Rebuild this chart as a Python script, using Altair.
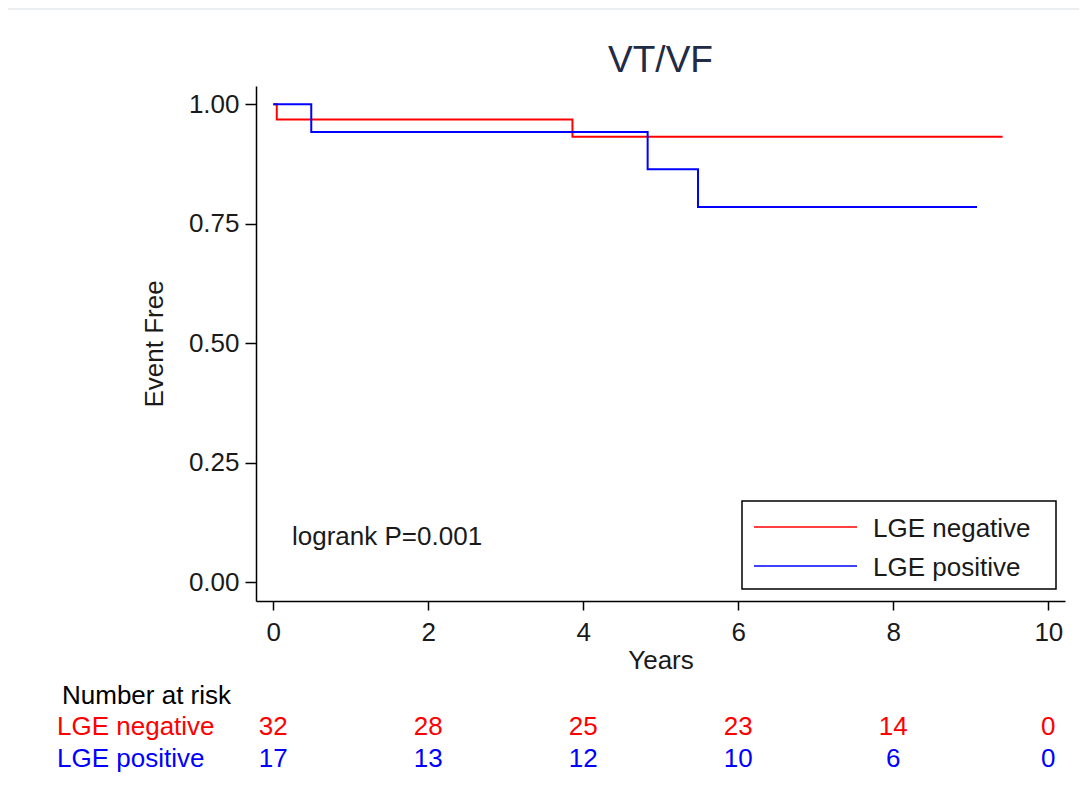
import altair as alt
import pandas as pd

# ---------------- data ----------------
chart_title = "VT/VF"
groups = ["LGE negative", "LGE positive"]
colors = ["#ff0000", "#0000ff"]

neg_years = [0.0, 0.045, 3.86, 9.41]
neg_surv = [1.0, 0.968, 0.932, 0.932]
pos_years = [0.0, 0.49, 4.83, 5.48, 9.08]
pos_surv = [1.0, 0.942, 0.864, 0.785, 0.785]

risk_years = [0, 2, 4, 6, 8, 10]
risk_neg = [32, 28, 25, 23, 14, 0]
risk_pos = [17, 13, 12, 10, 6, 0]

x_ticks = [0, 2, 4, 6, 8, 10]
y_ticks = [0.0, 0.25, 0.5, 0.75, 1.0]

annotation = "logrank P=0.001"
risk_header = "Number at risk"

FONT = "Liberation Sans"
FS = 26

# ---------------- tables ----------------
curves = pd.concat([
    pd.DataFrame({"year": neg_years, "surv": neg_surv, "group": groups[0]}),
    pd.DataFrame({"year": pos_years, "surv": pos_surv, "group": groups[1]}),
], ignore_index=True)
risk_neg_df = pd.DataFrame({"year": risk_years, "n": risk_neg})
risk_pos_df = pd.DataFrame({"year": risk_years, "n": risk_pos})
one = pd.DataFrame({"k": [0]})

xscale = alt.Scale(domain=[-0.223, 10.215], nice=False, zero=False)
yscale = alt.Scale(domain=[-0.0397, 1.038], nice=False, zero=False)

xaxis = alt.Axis(values=x_ticks, title="Years", grid=False, labelFont=FONT,
                 labelFontSize=FS, labelColor="#1a1a1a", titleFont=FONT,
                 titleFontSize=FS, titleFontWeight="normal", titleColor="#1a1a1a",
                 domainColor="#000000", domainWidth=1.5, tickColor="#000000",
                 tickWidth=1.5, tickSize=9, labelPadding=9, titlePadding=2,
                 labelFlush=False)
yaxis = alt.Axis(values=y_ticks, format=".2f", title="Event Free", grid=False,
                 labelFont=FONT, labelFontSize=FS, labelColor="#1a1a1a",
                 titleFont=FONT, titleFontSize=FS, titleFontWeight="normal",
                 titleColor="#1a1a1a", domainColor="#000000", domainWidth=1.5,
                 tickColor="#000000", tickWidth=1.5, tickSize=11, labelPadding=6,
                 titlePadding=21, labelFlush=False)

lines = alt.Chart(curves).mark_line(interpolate="step-after", strokeWidth=2).encode(
    x=alt.X("year:Q", scale=xscale, axis=xaxis),
    y=alt.Y("surv:Q", scale=yscale, axis=yaxis),
    color=alt.Color("group:N", scale=alt.Scale(domain=groups, range=colors), legend=None),
    detail="group:N",
)

top_line = alt.Chart(one).mark_rule(color="#eceff1", strokeWidth=2).encode(
    x=alt.value(-260), x2=alt.value(840), y=alt.value(-77)
)

title_mark = alt.Chart(one).mark_text(align="center", baseline="alphabetic", font=FONT,
                                       fontSize=37, color="#222b45", text=chart_title).encode(
    x=alt.value(404.5), y=alt.value(-14.5)
)

logrank = alt.Chart(one).mark_text(align="left", baseline="alphabetic", font=FONT,
                                    fontSize=FS, color="#1a1a1a", text=annotation).encode(
    x=alt.value(36), y=alt.value(459)
)

# legend box
legend_box = alt.Chart(one).mark_rect(fill="white", stroke="#000000", strokeWidth=1.5).encode(
    x=alt.value(486), x2=alt.value(800), y=alt.value(415), y2=alt.value(503)
)
legend_layers = [legend_box]
for i, (g, c) in enumerate(zip(groups, colors)):
    ly = 441 + 39 * i
    legend_layers.append(
        alt.Chart(one).mark_rule(color=c, strokeWidth=1.5).encode(
            x=alt.value(498), x2=alt.value(601), y=alt.value(ly)
        )
    )
    legend_layers.append(
        alt.Chart(one).mark_text(align="left", baseline="alphabetic", font=FONT,
                                 fontSize=FS, color="#1a1a1a", text=g).encode(
            x=alt.value(617), y=alt.value(ly + 10)
        )
    )

# risk table
header = alt.Chart(one).mark_text(align="left", baseline="alphabetic", font=FONT,
                                   fontSize=FS, color="#000000", text=risk_header).encode(
    x=alt.value(-194), y=alt.value(618)
)
risk_layers = [header]
for i, (g, c, df) in enumerate(zip(groups, colors, [risk_neg_df, risk_pos_df])):
    by = 649 + 31.5 * i
    risk_layers.append(
        alt.Chart(one).mark_text(align="left", baseline="alphabetic", font=FONT,
                                 fontSize=FS, color=c, text=g).encode(
            x=alt.value(-199), y=alt.value(by)
        )
    )
    risk_layers.append(
        alt.Chart(df).mark_text(align="center", baseline="alphabetic", font=FONT,
                                fontSize=FS, color=c).encode(
            x=alt.X("year:Q", scale=xscale, axis=xaxis),
            y=alt.value(by),
            text=alt.Text("n:Q"),
        )
    )

chart = alt.layer(top_line, title_mark, lines, logrank, *legend_layers, *risk_layers).properties(
    width=809,
    height=515,
    background="white",
    autosize=alt.AutoSizeParams(type="none"),
    padding={"left": 248, "top": 78, "right": 14, "bottom": 180},
).configure_view(stroke=None)

chart.save("out.html", embed_options={"renderer": "svg", "actions": False})
